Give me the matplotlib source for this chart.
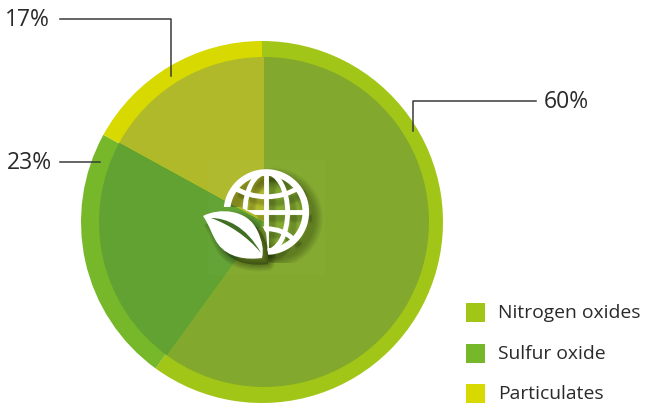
import matplotlib
matplotlib.use("Agg")
import matplotlib.pyplot as plt
import numpy as np
from matplotlib.patches import Circle, Ellipse, PathPatch, Polygon, Rectangle
from matplotlib.path import Path
from matplotlib.transforms import Affine2D

plt.rcParams['font.family'] = ['Open Sans', 'DejaVu Sans']

# emission shares
categories = ["Nitrogen oxides", "Sulfur oxide", "Particulates"]
shares = [60, 23, 17]
share_labels = ["60%", "23%", "17%"]
ring_colors = ["#a2c617", "#76b82a", "#d7d900"]
inner_colors = ["#82a92d", "#61a233", "#afb92a"]

W, H = 645, 411
TEXT = "#2a2a2a"
LINE = "#3a3a3a"


def py(y):
    # y measured from the top edge
    return H - y


fig = plt.figure(figsize=(W / 100, H / 100), dpi=100)
ax = fig.add_axes([0, 0, 1, 1])

ax.pie(shares, colors=ring_colors, startangle=90, counterclock=False,
       center=(262, py(222)), radius=181)
# inner disc sits a little right of the ring's centre
ax.pie(shares, colors=inner_colors, startangle=90, counterclock=False,
       center=(264, py(222)), radius=165)
ax.set_xlim(0, W)
ax.set_ylim(0, H)
ax.set_aspect("equal")
ax.axis("off")

# faint square behind the icon
ax.add_patch(Rectangle((208, py(275)), 117, 115, fc="white", ec="none", alpha=0.02, zorder=3))

# leader lines
ax.plot([536, 413, 413], [py(101), py(101), py(131)], color=LINE, lw=1.1, zorder=4)
ax.plot([60, 100], [py(162), py(162)], color=LINE, lw=1.1, zorder=4)
ax.plot([60, 171, 171], [py(19), py(19), py(76)], color=LINE, lw=1.1, zorder=4)

ax.text(544, py(102), share_labels[0], fontsize=16.5, color=TEXT, va="center", ha="left")
ax.text(52, py(163), share_labels[1], fontsize=16.5, color=TEXT, va="center", ha="right")
ax.text(50, py(20), share_labels[2], fontsize=16.5, color=TEXT, va="center", ha="right")

# legend
for name, color, top in zip(categories, ring_colors, [303, 344, 384]):
    ax.add_patch(Rectangle((466, py(top + 19)), 19, 19, fc=color, ec="none"))
    ax.text(498, py(top + 10), name, fontsize=13.9, color=TEXT, va="center", ha="left")


def bez(points, codes):
    return Path([(x, py(y)) for x, y in points], codes)


C4 = Path.CURVE4
M = Path.MOVETO

gx, gy = 266.3, py(212)
gr = 39.5


def globe_rim():
    return [Circle((gx, gy), gr, fc="none")]


def globe_grid():
    parts = [Ellipse((gx, gy), gr * 1.08, gr * 2, fc="none")]
    parts.append(PathPatch(Path([(gx, gy + gr), (gx, gy - gr)]), fc="none"))
    parts.append(PathPatch(Path([(gx - gr, gy), (gx + gr, gy)]), fc="none"))
    # curved parallels
    parts.append(PathPatch(bez([(233, 187), (253, 200), (280, 200), (300, 187)], [M, C4, C4, C4]), fc="none"))
    parts.append(PathPatch(bez([(240, 240), (253, 225), (280, 225), (294, 240)], [M, C4, C4, C4]), fc="none"))
    return parts


def leaf():
    outline = bez([(203, 216), (218, 208), (248, 208), (258, 232),
                   (262, 241), (264, 250), (262, 258),
                   (247, 260), (228, 258), (218, 244),
                   (212, 236), (210, 226), (203, 216)],
                  [M, C4, C4, C4, C4, C4, C4, C4, C4, C4, C4, C4, C4])
    return PathPatch(outline, ec="none")


def vein():
    curve = bez([(211, 218), (226, 218), (246, 226), (261, 253),
                 (247, 236), (228, 224), (211, 218)],
                [M, C4, C4, C4, C4, C4, C4])
    return PathPatch(curve, ec="none")


# the globe stops short of the leaf
keep = Polygon([(x, py(y)) for x, y in [(180, 207), (223, 207), (240, 207), (257, 216), (266, 233),
                                        (269, 263), (330, 263), (330, 160), (180, 160)]],
               transform=ax.transData)

# soft drop shadow: stacked translucent copies, widest first
shift = Affine2D().translate(6, -6) + ax.transData
for i in range(8, 0, -1):
    for part in globe_rim():
        part.set(transform=shift, ec="black", lw=3 + i * 1.6, alpha=0.035, zorder=5, fill=False)
        ax.add_patch(part)
        part.set_clip_path(keep)
    part = leaf()
    part.set(transform=shift, fc="black", ec="black", lw=i * 1.2, alpha=0.04, zorder=5, joinstyle="round")
    ax.add_patch(part)
    for part in globe_grid():
        part.set(transform=shift, ec="black", lw=2 + i * 0.6, alpha=0.02, zorder=5, fill=False)
        ax.add_patch(part)
        part.set_clip_path(keep)

for part in globe_rim():
    part.set(ec="white", lw=4.8, zorder=6, fill=False)
    ax.add_patch(part)
    part.set_clip_path(keep)
for part in globe_grid():
    part.set(ec="white", lw=3.5, zorder=6, fill=False)
    ax.add_patch(part)
    part.set_clip_path(keep)
part = leaf()
part.set(fc="white", zorder=7)
ax.add_patch(part)
part = vein()
part.set(fc="#3f6f22", zorder=8)
ax.add_patch(part)

fig.savefig("out.png", dpi=100)
